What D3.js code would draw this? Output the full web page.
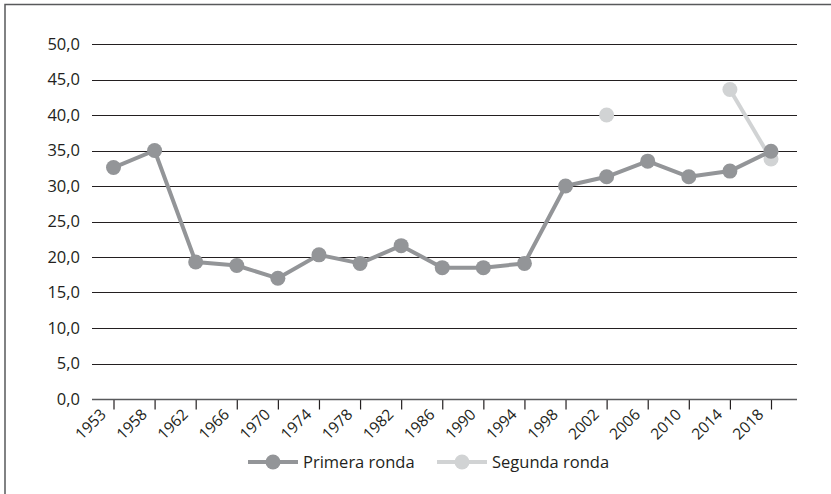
<!DOCTYPE html>
<html>
<head>
<meta charset="utf-8">
<script src="https://cdn.jsdelivr.net/npm/d3@7/dist/d3.min.js"></script>
<style>
html,body{margin:0;padding:0;background:#fff;}
svg{display:block;font-family:"Open Sans",sans-serif;}
</style>
</head>
<body>
<svg id="chart" width="831" height="494"></svg>
<script>
const years = ["1953","1958","1962","1966","1970","1974","1978","1982","1986","1990","1994","1998","2002","2006","2010","2014","2018"];
const primeraRonda = [32.6,35.0,19.3,18.8,17.0,20.3,19.1,21.6,18.5,18.5,19.1,30.0,31.3,33.5,31.3,32.1,34.9];
const segundaRonda = [null,null,null,null,null,null,null,null,null,null,null,null,40.0,null,null,43.6,33.8];
const yTicks = [0,5,10,15,20,25,30,35,40,45,50];
const seriesNames = ["Primera ronda","Segunda ronda"];
const seriesColors = ["#939598","#d1d3d4"];

const svg = d3.select("#chart");
// outer frame (right/bottom sides fall outside the image)
svg.append("rect").attr("x",5).attr("y",4.5).attr("width",840).attr("height",500)
  .attr("fill","none").attr("stroke","#58595b").attr("stroke-width",1.5);

const plotLeft = 92, plotRight = 797, plotTop = 44, plotBottom = 399;
const x = d3.scalePoint().domain(years).range([113.5, 771]);
const y = d3.scaleLinear().domain([0,50]).range([plotBottom, plotTop]);

// gridlines
svg.append("g").selectAll("line").data(yTicks.filter(d=>d>0)).join("line")
  .attr("x1",plotLeft).attr("x2",plotRight)
  .attr("y1",d=>Math.round(y(d))+0.5).attr("y2",d=>Math.round(y(d))+0.5)
  .attr("stroke","#231f20").attr("stroke-width",1.2);

// y axis labels
const yAxis = d3.axisLeft(y).tickValues(yTicks).tickSize(0).tickPadding(0)
  .tickFormat(d=>d3.format(".1f")(d).replace(".",","));
const gy = svg.append("g").attr("transform",`translate(${plotLeft-12},0)`).call(yAxis);
gy.select(".domain").remove();
gy.selectAll("text").attr("font-size",16.5).attr("fill","#231f20").attr("font-family","Open Sans, sans-serif");

// x axis
const xAxis = d3.axisBottom(x).tickSize(10).tickSizeOuter(0);
const gx = svg.append("g").attr("transform",`translate(0,${plotBottom+0.5})`).call(xAxis);
gx.select(".domain").remove();
gx.append("line").attr("x1",plotLeft).attr("x2",plotRight).attr("y1",0).attr("y2",0)
  .attr("stroke","#58595b").attr("stroke-width",1.5);
gx.selectAll(".tick line").attr("stroke","#231f20").attr("stroke-width",1.2);
gx.selectAll(".tick text")
  .attr("font-size",15.5).attr("fill","#231f20").attr("font-family","Open Sans, sans-serif")
  .attr("text-anchor","end").attr("dy",null).attr("y",null)
  .attr("transform","translate(-10,13) rotate(-45)")
  .attr("dominant-baseline","middle");

// series
const allSeries = [primeraRonda, segundaRonda];
const line = d3.line().defined(d=>d.v!=null).x(d=>x(d.k)).y(d=>y(d.v));
allSeries.slice().reverse().forEach((vals,ri)=>{
  const i = allSeries.length-1-ri;
  const data = years.map((k,j)=>({k,v:vals[j]}));
  svg.append("path").datum(data).attr("d",line)
    .attr("fill","none").attr("stroke",seriesColors[i]).attr("stroke-width",4)
    .attr("stroke-linejoin","round");
  svg.append("g").selectAll("circle").data(data.filter(d=>d.v!=null)).join("circle")
    .attr("cx",d=>x(d.k)).attr("cy",d=>y(d.v)).attr("r",7.5)
    .attr("fill",seriesColors[i]);
});

// legend
const legendItems = [{x:248,name:seriesNames[0],c:seriesColors[0]},{x:437,name:seriesNames[1],c:seriesColors[1]}];
const lg = svg.append("g").attr("transform","translate(0,462)");
legendItems.forEach(it=>{
  lg.append("line").attr("x1",it.x).attr("x2",it.x+50).attr("y1",0).attr("y2",0)
    .attr("stroke",it.c).attr("stroke-width",4);
  lg.append("circle").attr("cx",it.x+25).attr("cy",0).attr("r",7.5).attr("fill",it.c);
  lg.append("text").attr("x",it.x+55).attr("y",0).attr("dy","0.35em")
    .attr("font-size",16.5).attr("fill","#231f20").text(it.name);
});
</script>
</body>
</html>
